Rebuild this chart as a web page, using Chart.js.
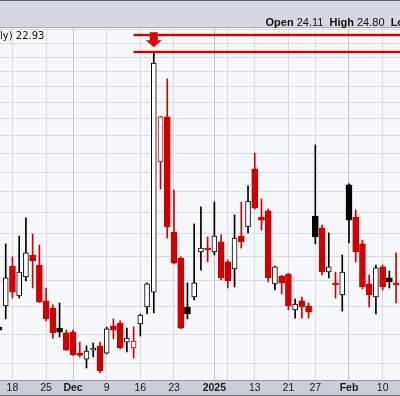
<!DOCTYPE html>
<html>
<head>
<meta charset="utf-8">
<style>
  html, body { margin: 0; padding: 0; background: #fff; overflow: hidden; }
  canvas { display: block; }
</style>
</head>
<body>
<canvas id="vix-chart" width="400" height="396"></canvas>
<script src="https://cdn.jsdelivr.net/npm/chart.js@4.4.1/dist/chart.umd.min.js"></script>
<script>
// daily candles
var dates = [
  '2024-11-14', '2024-11-15', '2024-11-18', '2024-11-19', '2024-11-20', '2024-11-21', '2024-11-22',
  '2024-11-25', '2024-11-26', '2024-11-27', '2024-11-29', '2024-12-02', '2024-12-03', '2024-12-04',
  '2024-12-05', '2024-12-06', '2024-12-09', '2024-12-10', '2024-12-11', '2024-12-12', '2024-12-13',
  '2024-12-16', '2024-12-17', '2024-12-18', '2024-12-19', '2024-12-20', '2024-12-23', '2024-12-24',
  '2024-12-26', '2024-12-27', '2024-12-30', '2024-12-31', '2025-01-02', '2025-01-03', '2025-01-06',
  '2025-01-07', '2025-01-08', '2025-01-10', '2025-01-13', '2025-01-14', '2025-01-15', '2025-01-16',
  '2025-01-17', '2025-01-21', '2025-01-22', '2025-01-23', '2025-01-24', '2025-01-27', '2025-01-28',
  '2025-01-29', '2025-01-30', '2025-01-31', '2025-02-03', '2025-02-04', '2025-02-05', '2025-02-06',
  '2025-02-07', '2025-02-10', '2025-02-11', '2025-02-12'
];
var opens = [
  14.26, 15.03, 16.61, 15.41, 16.16, 17.07, 16.65, 15.22, 14.95, 14.22, 14.05, 14.08, 13.36, 13.16,
  13.46, 13.60, 13.36, 14.30, 14.40, 13.73, 13.53, 14.37, 14.99, 15.56, 21.54, 24.11, 18.08, 16.94,
  14.99, 15.37, 17.20, 17.37, 17.20, 17.64, 16.78, 16.49, 17.90, 18.31, 21.17, 18.77, 19.06, 15.88,
  16.20, 16.28, 14.88, 15.22, 15.03, 18.82, 18.26, 16.36, 15.92, 15.45, 20.34, 18.77, 17.55, 15.88,
  15.37, 16.57, 16.12, 15.92
];
var highs = [
  14.44, 17.55, 16.99, 17.90, 18.73, 17.99, 17.50, 15.72, 15.07, 15.14, 14.15, 14.15, 13.73, 13.60,
  13.70, 13.73, 14.26, 14.55, 14.48, 14.22, 14.26, 14.73, 15.92, 28.29, 24.15, 26.51, 20.08, 17.00,
  15.92, 18.45, 19.25, 17.86, 19.49, 17.95, 16.86, 18.87, 19.49, 20.29, 22.03, 19.64, 19.15, 16.60,
  16.22, 16.30, 15.29, 15.37, 15.14, 22.48, 18.40, 18.04, 16.36, 17.07, 20.40, 19.10, 17.72, 16.24,
  16.65, 16.65, 16.40, 17.16
];
var lows = [
  14.05, 14.55, 15.33, 15.33, 16.00, 15.72, 15.16, 14.48, 13.87, 13.91, 13.45, 13.28, 13.23, 12.87,
  13.23, 12.71, 13.33, 13.84, 13.50, 13.40, 13.20, 13.94, 14.73, 14.77, 20.13, 17.81, 16.70, 14.20,
  14.55, 15.26, 16.44, 16.78, 17.07, 16.04, 15.72, 15.76, 17.37, 18.04, 19.15, 18.17, 15.96, 15.64,
  15.49, 14.88, 14.58, 14.58, 14.58, 17.55, 16.24, 16.12, 15.33, 14.84, 17.59, 16.78, 15.68, 14.99,
  14.73, 15.64, 15.72, 15.14
];
var closes = [
  14.15, 16.12, 15.56, 16.36, 17.16, 16.82, 15.18, 14.55, 14.05, 14.08, 13.46, 13.30, 13.28, 13.43,
  13.53, 12.78, 14.19, 14.15, 13.53, 13.87, 13.77, 14.69, 15.88, 27.59, 24.11, 18.31, 16.73, 14.22,
  14.73, 15.92, 17.37, 17.29, 17.90, 16.12, 16.00, 17.81, 17.64, 19.54, 19.20, 18.63, 16.12, 16.57,
  15.92, 15.03, 15.10, 14.99, 14.80, 17.86, 16.36, 16.57, 15.84, 16.36, 18.63, 17.20, 15.76, 15.45,
  16.53, 15.76, 15.96, 15.84
];

// x axis: week / month starts get a grid line
var gridDates = ['2024-11-18', '2024-11-25', '2024-12-02', '2024-12-09', '2024-12-16', '2024-12-23',
  '2025-01-02', '2025-01-06', '2025-01-13', '2025-01-21', '2025-01-27', '2025-02-03', '2025-02-10'];
var gridLabels = ['18', '25', 'Dec', '9', '16', '23', '2025', '', '13', '21', '27', 'Feb', '10'];
var monthDates = ['2024-12-02', '2025-01-02', '2025-02-03'];
var priceTicks = [13, 14, 15, 16, 17, 18, 19, 20, 21, 22, 23, 24, 25, 26, 27, 28, 29, 30];

// drawn levels and the marker
var levelValues = [29.59, 28.36];
var levelStart = '2024-12-13';
var arrowDate = '2024-12-18';
var arrowValue = 28.7;

// header texts
var headerNames = ['Open', 'High', 'Low'];
var headerValues = ['24.11', '24.80', ''];
var titleText = 'ly) 22.93';

(function(Chart) {
  var RED = '#d00000';
  var BLACK = '#000000';
  var FONT = 'Arial, "Liberation Sans", sans-serif';

  var colors = closes.map(function(c, i) {
    return (i > 0 && c < closes[i - 1]) ? RED : BLACK;
  });
  var hollow = closes.map(function(c, i) { return c > opens[i]; });
  var gridIdx = gridDates.map(function(d) { return dates.indexOf(d); });
  var monthIdx = monthDates.map(function(d) { return dates.indexOf(d); });

  // hollow and filled bodies go in separate datasets so they can differ in width
  var hollowIdx = [], filledIdx = [];
  dates.forEach(function(d, i) { (hollow[i] ? hollowIdx : filledIdx).push(i); });
  var body = function(i) { return {x: i, y: [opens[i], closes[i]]}; };
  var wicks = dates.map(function(d, i) { return {x: i, y: [lows[i], highs[i]]}; });

  var chrome = {
    id: 'chrome',
    beforeDraw: function(chart) {
      var ctx = chart.ctx, a = chart.chartArea, w = chart.width, h = chart.height;
      ctx.save();
      // header band
      ctx.fillStyle = '#d5d8e0';
      ctx.fillRect(0, 0, w, a.top);
      ctx.fillStyle = '#5c6068';
      ctx.fillRect(0, 0, w, 1);
      ctx.fillStyle = '#a7abb3';
      ctx.fillRect(0, a.top - 1, w, 1);
      // plot
      ctx.fillStyle = '#f6f7fa';
      ctx.fillRect(a.left, a.top, a.right - a.left, a.bottom - a.top);
      // axis band
      ctx.fillStyle = '#c9cdd5';
      ctx.fillRect(0, a.bottom, w, h - a.bottom);
      ctx.fillStyle = '#9a9ea6';
      ctx.fillRect(0, a.bottom, w, 1);
      ctx.fillStyle = '#70747c';
      ctx.fillRect(0, h - 1, w, 1);
      ctx.restore();
    },
    afterDatasetsDraw: function(chart) {
      var ctx = chart.ctx, a = chart.chartArea;
      var xs = chart.scales.x, ys = chart.scales.y;
      ctx.save();
      ctx.beginPath();
      ctx.rect(a.left, a.top, a.right - a.left, a.bottom - a.top);
      ctx.clip();
      var x0 = xs.getPixelForValue(dates.indexOf(levelStart));
      levelValues.forEach(function(v) {
        var y = Math.round(ys.getPixelForValue(v));
        ctx.fillStyle = 'rgba(208,0,0,0.18)';
        ctx.fillRect(x0, y - 2, a.right - x0, 4);
        ctx.fillStyle = RED;
        ctx.fillRect(x0, y - 1, a.right - x0, 2);
      });
      // down arrow
      var ax = xs.getPixelForValue(dates.indexOf(arrowDate));
      var ay = ys.getPixelForValue(arrowValue);
      ctx.fillStyle = '#e00000';
      ctx.beginPath();
      ctx.moveTo(ax, ay);
      ctx.lineTo(ax - 8, ay - 7);
      ctx.lineTo(ax - 4, ay - 7);
      ctx.lineTo(ax - 4, ay - 15);
      ctx.lineTo(ax + 4, ay - 15);
      ctx.lineTo(ax + 4, ay - 7);
      ctx.lineTo(ax + 8, ay - 7);
      ctx.closePath();
      ctx.fill();
      ctx.restore();
    },
    afterDraw: function(chart) {
      var ctx = chart.ctx;
      ctx.save();
      ctx.fillStyle = '#111';
      ctx.textBaseline = 'alphabetic';
      var x = 265.5;
      headerNames.forEach(function(name, i) {
        ctx.font = 'bold 11px ' + FONT;
        ctx.fillText(name, x, 26);
        x += ctx.measureText(name + ' ').width;
        if (headerValues[i]) {
          ctx.font = '11px ' + FONT;
          ctx.fillText(headerValues[i], x, 26);
          x += ctx.measureText(headerValues[i] + '  ').width;
        }
      });
      ctx.font = '10px "DejaVu Sans", sans-serif';
      ctx.fillText(titleText, 0, 39);
      ctx.restore();
    }
  };

  new Chart(document.getElementById('vix-chart'), {
    type: 'bar',
    data: {
      datasets: [{
        data: hollowIdx.map(body),
        order: 0,
        grouped: false,
        barThickness: 5,
        borderWidth: 1,
        borderSkipped: false,
        borderColor: hollowIdx.map(function(i) { return colors[i]; }),
        backgroundColor: '#ffffff'
      }, {
        data: filledIdx.map(body),
        order: 0,
        grouped: false,
        barThickness: 6,
        borderWidth: 1,
        borderSkipped: false,
        borderColor: filledIdx.map(function(i) { return colors[i]; }),
        backgroundColor: filledIdx.map(function(i) { return colors[i]; })
      }, {
        data: wicks,
        order: 1,
        grouped: false,
        barThickness: 1,
        borderWidth: 0,
        backgroundColor: colors
      }]
    },
    options: {
      responsive: false,
      animation: false,
      layout: {padding: {top: 28, left: 0, right: 0, bottom: 0}},
      plugins: {legend: {display: false}, tooltip: {enabled: false}},
      events: [],
      scales: {
        x: {
          type: 'linear',
          min: 0.15,
          max: 59.58,
          offset: false,
          border: {display: false},
          grid: {
            offset: false,
            drawTicks: false,
            color: function(ctx) {
              return ctx.tick && monthIdx.indexOf(ctx.tick.value) >= 0 ? '#bcc0c8' : '#d9dce2';
            }
          },
          ticks: {
            autoSkip: false,
            maxRotation: 0,
            padding: 2,
            color: '#1a1a1a',
            font: function(ctx) {
              var month = ctx.tick && monthIdx.indexOf(ctx.tick.value) >= 0;
              return {family: FONT, size: 10.5, weight: month ? 'bold' : 'normal'};
            },
            callback: function(v) {
              var k = gridIdx.indexOf(v);
              return k >= 0 ? gridLabels[k] : '';
            }
          },
          afterBuildTicks: function(s) {
            s.ticks = gridIdx.map(function(v) { return {value: v}; });
          },
          afterFit: function(s) {
            s.height = 16;
            s.paddingLeft = 0;
            s.paddingRight = 0;
          }
        },
        y: {
          type: 'logarithmic',
          position: 'right',
          min: 12.49,
          max: 30.11,
          border: {display: false},
          grid: {drawTicks: false, color: '#d9dce2'},
          ticks: {display: false},
          afterBuildTicks: function(s) {
            s.ticks = priceTicks.map(function(v) { return {value: v}; });
          },
          afterFit: function(s) {
            s.width = 0;
          }
        }
      }
    },
    plugins: [chrome]
  });
})(Chart);
</script>
</body>
</html>
